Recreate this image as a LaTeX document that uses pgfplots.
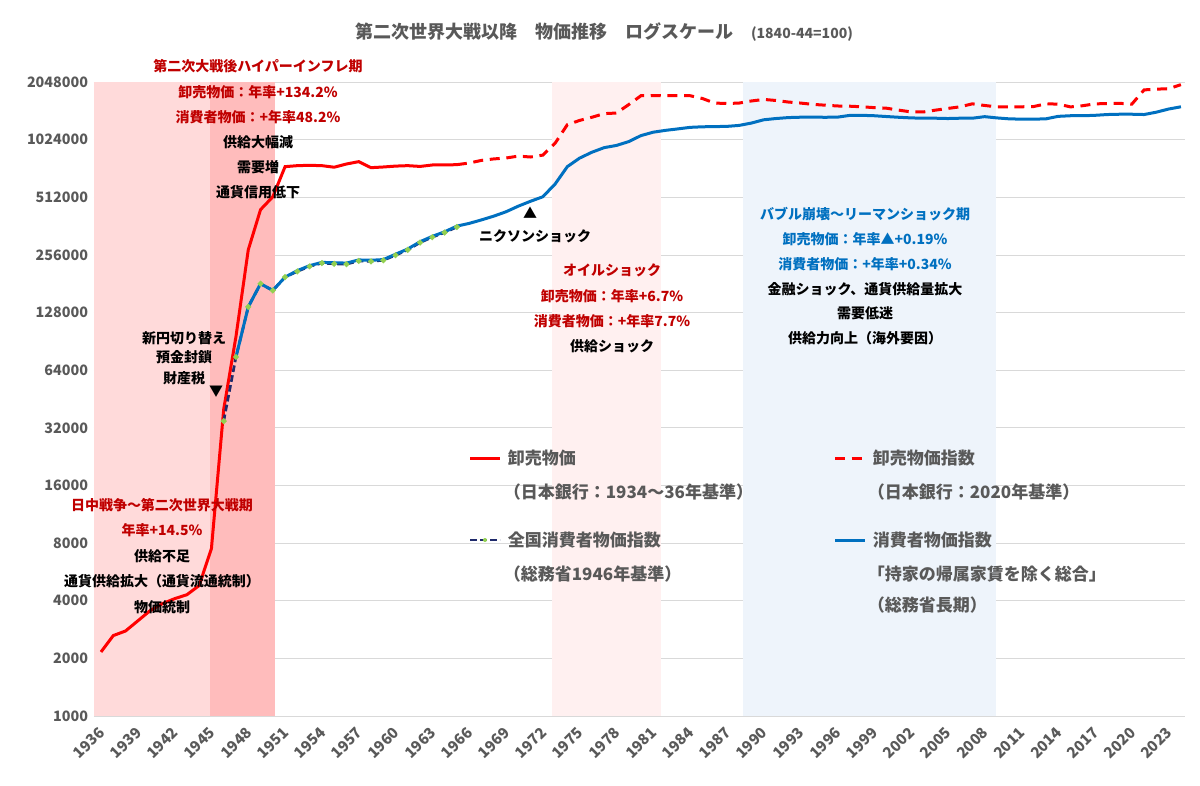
\documentclass[border=0pt]{standalone}
\usepackage{pgfplots}
\pgfplotsset{compat=1.18}
\usepackage{fontspec}
\setmainfont{Noto Sans CJK JP}
\definecolor{cred}{HTML}{FF0000}
\definecolor{tred}{HTML}{C00000}
\definecolor{cblue}{HTML}{0070C0}
\definecolor{cnavy}{HTML}{1F2A6B}
\definecolor{cgreen}{HTML}{92D050}
\definecolor{bandA}{HTML}{FFDADA}
\definecolor{bandB}{HTML}{FFBCBC}
\definecolor{bandC}{HTML}{FFF0F0}
\definecolor{bandD}{HTML}{EEF4FB}
\definecolor{tickgray}{HTML}{595959}
\newcommand{\ann}{\fontsize{8.4}{10}\selectfont\bfseries}
\newcommand{\leg}{\fontsize{10.2}{12}\selectfont\bfseries}
\begin{document}
\begin{tikzpicture}
\begin{axis}[
  at={(56.4pt,-429.6pt)}, anchor=south west,
  scale only axis, width=654.6pt, height=380.4pt,
  xmin=1935.43, xmax=2024.33,
  ymode=log, log basis y=2, ymin=1000, ymax=2048000,
  xtick={1936,1939,...,2023},
  ytick={1000,2000,4000,8000,16000,32000,64000,128000,256000,512000,1024000,2048000},
  yticklabels={1000,2000,4000,8000,16000,32000,64000,128000,256000,512000,1024000,2048000},
  x tick label style={/pgf/number format/1000 sep=, yshift=-6pt, xshift=3pt, rotate=45, anchor=east, font=\fontsize{9}{10}\selectfont\bfseries, text=tickgray},
  y tick label style={font=\fontsize{8.6}{10}\selectfont\bfseries, text=tickgray},
  /pgf/number format/assume math mode=true,
  ymajorgrids, major grid style={draw=black!15},
  axis line style={draw=none}, tick style={draw=none},
  clip=true, axis on top=false,
]
\fill[bandA] (axis cs:1935.43,1000) rectangle (axis cs:1944.9,2048000);
\fill[bandB] (axis cs:1944.9,1000) rectangle (axis cs:1950.15,2048000);
\fill[bandC] (axis cs:1972.75,1000) rectangle (axis cs:1981.6,2048000);
\fill[bandD] (axis cs:1988.3,1000) rectangle (axis cs:2008.9,2048000);
\addplot[cred, line width=1.8pt, no marks] coordinates {
(1936,2160)(1937,2630)(1938,2780)(1939,3140)(1940,3550)(1941,3860)(1942,4100)(1943,4300)(1944,4800)(1945,7500)
(1946,40000)(1947,96000)(1948,272000)(1949,441000)(1950,515000)(1951,740000)(1952,749000)(1953,752000)(1954,749000)
(1955,735000)(1956,764000)(1957,786000)(1958,731000)(1959,737000)(1960,745000)(1961,749000)(1962,742000)(1963,755000)(1964,755000)(1965,758000)};
\addplot[cred, line width=1.8pt, dash pattern=on 6pt off 4pt, no marks] coordinates {
(1965,758000)(1966,773000)(1967,798000)(1968,812000)(1969,821000)(1970,840000)(1971,831000)(1972,850000)(1973,980000)
(1974,1226000)(1975,1290000)(1976,1340000)(1977,1400000)(1978,1410000)(1979,1560000)(1980,1737000)(1981,1740000)
(1982,1737000)(1983,1737000)(1984,1737000)(1985,1680000)(1986,1590000)(1987,1581000)(1988,1590000)(1989,1630000)
(1990,1661000)(1991,1640000)(1992,1610000)(1993,1590000)(1994,1565000)(1995,1550000)(1996,1535000)(1997,1531000)
(1998,1520000)(1999,1505000)(2000,1495000)(2001,1460000)(2002,1430000)(2003,1428000)(2004,1460000)(2005,1490000)
(2006,1520000)(2007,1575000)(2008,1545000)(2009,1518000)(2010,1520000)(2011,1520000)(2012,1525000)(2013,1575000)
(2014,1570000)(2015,1518000)(2016,1540000)(2017,1575000)(2018,1580000)(2019,1585000)(2020,1570000)(2021,1863000)
(2022,1879000)(2023,1890000)(2024,1983000)};
\addplot[cnavy, line width=1.6pt, dash pattern=on 4pt off 2pt, mark=*, mark size=0.8pt, mark options={solid, fill=cgreen, draw=cgreen}] coordinates {
(1946,34700)(1947,75000)(1948,137000)(1949,181000)(1950,167000)(1951,196000)(1952,210000)(1953,223000)(1954,232000)
(1955,230000)(1956,229000)(1957,238000)(1958,237000)(1959,240000)(1960,255000)(1961,272000)(1962,297000)(1963,317000)(1964,335000)(1965,358000)};
\addplot[cblue, line width=1.8pt, no marks] coordinates {
(1947,75000)(1948,137000)(1949,181000)(1950,167000)(1951,196000)(1952,212000)(1953,225000)(1954,234000)(1955,233000)
(1956,232000)(1957,241000)(1958,240000)(1959,242000)(1960,258000)(1961,275000)(1962,300000)(1963,320000)(1964,338000)
(1965,362000)(1966,374000)(1967,390000)(1968,408000)(1969,430000)(1970,460000)(1971,488000)(1972,515000)(1973,600000)
(1974,740000)(1975,820000)(1976,880000)(1977,930000)(1978,955000)(1979,1000000)(1980,1075000)(1981,1120000)
(1982,1145000)(1983,1165000)(1984,1187000)(1985,1195000)(1986,1198000)(1987,1201000)(1988,1215000)(1989,1250000)
(1990,1300000)(1991,1320000)(1992,1335000)(1993,1341000)(1994,1342000)(1995,1340000)(1996,1342000)(1997,1370000)
(1998,1372000)(1999,1365000)(2000,1352000)(2001,1340000)(2002,1330000)(2003,1325000)(2004,1325000)(2005,1320000)
(2006,1325000)(2007,1325000)(2008,1350000)(2009,1330000)(2010,1315000)(2011,1310000)(2012,1310000)(2013,1315000)
(2014,1355000)(2015,1365000)(2016,1365000)(2017,1372000)(2018,1385000)(2019,1390000)(2020,1390000)(2021,1385000)
(2022,1425000)(2023,1480000)(2024,1520000)};
\end{axis}
\begin{scope}[x=0.6pt,y=-0.6pt]
\path (0,0) rectangle (1200,785);
\node[text=tickgray] at (604,32) {\fontsize{10.8}{12}\selectfont\bfseries 第二次世界大戦以降　物価推移　ログスケール　{\fontsize{8.4}{10}\selectfont (1840-44=100)}};
\node[text=tred] at (258,66) {\ann 第二次大戦後ハイパーインフレ期};
\node[text=tred] at (258,92) {\ann 卸売物価：年率+134.2\%};
\node[text=tred] at (258,117) {\ann 消費者物価：+年率48.2\%};
\node at (258,142) {\ann 供給大幅減};
\node at (258,167) {\ann 需要増};
\node at (258,192) {\ann 通貨信用低下};
\node at (184,338) {\ann 新円切り替え};
\node at (184,357) {\ann 預金封鎖};
\node at (184,378) {\ann 財産税};
\node at (216,392) {\ann ▼};
\node at (535,236) {\ann ニクソンショック};
\node at (530,213) {\ann ▲};
\node[text=tred] at (612,270) {\ann オイルショック};
\node[text=tred] at (612,296) {\ann 卸売物価：年率+6.7\%};
\node[text=tred] at (612,321) {\ann 消費者物価：+年率7.7\%};
\node at (612,346) {\ann 供給ショック};
\node[text=cblue] at (865,214) {\ann バブル崩壊～リーマンショック期};
\node[text=cblue] at (865,239) {\ann 卸売物価：年率▲+0.19\%};
\node[text=cblue] at (865,264) {\ann 消費者物価：+年率+0.34\%};
\node at (865,289) {\ann 金融ショック、通貨供給量拡大};
\node at (865,313) {\ann 需要低迷};
\node at (865,338) {\ann 供給力向上（海外要因）};
\node[text=tred] at (162,505) {\ann 日中戦争～第二次世界大戦期};
\node[text=tred] at (162,530) {\ann 年率+14.5\%};
\node at (162,556) {\ann 供給不足};
\node at (162,581) {\ann 通貨供給拡大（通貨流通統制）};
\node at (162,607) {\ann 物価統制};
\draw[cred, line width=1.8pt] (470,458) -- (500,458);
\node[anchor=west, text=tickgray] at (502,458) {\leg 卸売物価};
\node[anchor=west, text=tickgray] at (498,492) {\leg （日本銀行：1934～36年基準）};
\draw[cred, line width=1.8pt, dash pattern=on 6pt off 4pt] (835,458) -- (865,458);
\node[anchor=west, text=tickgray] at (867,458) {\leg 卸売物価指数};
\node[anchor=west, text=tickgray] at (862,492) {\leg （日本銀行：2020年基準）};
\draw[cnavy, line width=1.6pt, dash pattern=on 4pt off 2pt] (470,540) -- (500,540);
\fill[cgreen] (485,540) circle (2);
\node[anchor=west, text=tickgray] at (502,540) {\leg 全国消費者物価指数};
\node[anchor=west, text=tickgray] at (498,574) {\leg （総務省1946年基準）};
\draw[cblue, line width=1.8pt] (835,540) -- (865,540);
\node[anchor=west, text=tickgray] at (867,540) {\leg 消費者物価指数};
\node[anchor=west, text=tickgray] at (862,574) {\leg 「持家の帰属家賃を除く総合」};
\node[anchor=west, text=tickgray] at (862,605) {\leg （総務省長期）};
\end{scope}
\end{tikzpicture}
\end{document}
